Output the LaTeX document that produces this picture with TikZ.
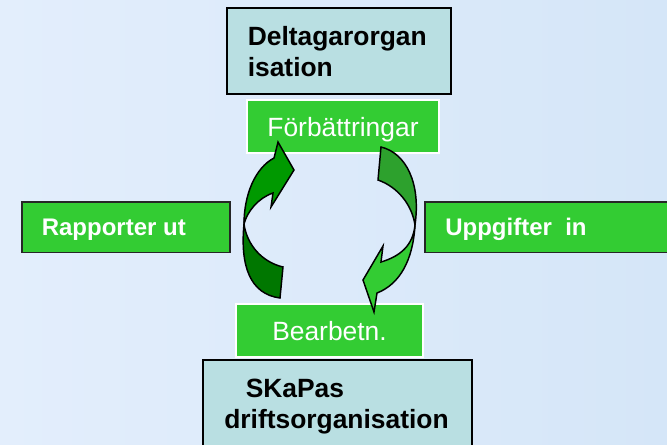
\documentclass[tikz,border=0pt]{standalone}
\usepackage{fontspec}
\setmainfont{Liberation Sans}
\definecolor{bgL}{HTML}{E3EEFC}
\definecolor{bgR}{HTML}{D5E6F8}
\definecolor{tealbg}{HTML}{B9DFE2}
\definecolor{grn}{HTML}{33CC33}
\definecolor{dgA}{HTML}{009900}
\definecolor{dgB}{HTML}{007700}
\definecolor{mgA}{HTML}{2DA12D}
\begin{document}
\begin{tikzpicture}[x=0.75pt,y=-0.75pt,
  tealbox/.style={draw=black, line width=1.1pt, fill=tealbg, inner sep=0pt},
  greenbox/.style={draw=white, line width=1pt, fill=grn, inner sep=0pt},
  sidebox/.style={draw=black!85, line width=1.1pt, fill=grn, inner sep=0pt},
  btxt/.style={font=\fontsize{19.8pt}{23pt}\selectfont\bfseries, inner sep=0pt, text=black},
  wtxt/.style={font=\fontsize{19.8pt}{23pt}\selectfont, inner sep=0pt, text=white},
  wbtxt/.style={font=\fontsize{18pt}{21pt}\selectfont\bfseries, inner sep=0pt, text=white},
  arrowline/.style={draw=black, line width=1.1pt}]
\clip (0,0) rectangle (667,444);
\shade[left color=bgL, right color=bgR] (0,0) rectangle (667,444);
% top organisation box
\node[tealbox, minimum width=168pt, minimum height=64.5pt] (org) at (339,51) {};
\node[btxt, anchor=base west] (orgA) at (247.5,45) {Deltagarorgan};
\node[btxt, anchor=base west] (orgB) at (247.5,76) {isation};
% improvement box
\node[greenbox, minimum width=144pt, minimum height=39.75pt] (forb) at (343,126.5) {};
\node[wtxt, anchor=base] (forbT) at (343,136.5) {Förbättringar};
% processing box
\node[greenbox, minimum width=140.25pt, minimum height=39.75pt] (bearb) at (329.5,330.5) {};
\node[wtxt, anchor=base] (bearbT) at (329.5,340.7) {Bearbetn.};
% SKaPas box
\node[tealbox, minimum width=201.75pt, minimum height=67.5pt] (skapas) at (337.5,405) {};
\node[btxt, anchor=base west] (skA) at (245.5,397.3) {SKaPas};
\node[btxt, anchor=base west] (skB) at (224,428.3) {driftsorganisation};
% side boxes
\node[sidebox, minimum width=156pt, minimum height=37.9pt] (rapp) at (126,227.25) {};
\node[wbtxt, anchor=base west] (rappT) at (41.5,235.7) {Rapporter ut};
\node[sidebox, minimum width=185.25pt, minimum height=37.9pt] (uppg) at (548.5,227.25) {};
\node[wbtxt, anchor=base west] (uppgT) at (445,235.7) {Uppgifter\ \ in};
% left curved arrow
\filldraw[arrowline, fill=dgB] (244,224) .. controls (240,266) and (250,294) .. (280,298) -- (283,267) .. controls (262,262) and (247,245) .. (244,224) -- cycle;
\filldraw[arrowline, fill=dgA] (244,224) .. controls (244,195) and (255,168) .. (274,158) -- (278,142) -- (294,170) -- (271,207) -- (273,193) .. controls (258,198) and (247,212) .. (244,224) -- cycle;
% right curved arrow
\filldraw[arrowline, fill=mgA] (381,147) .. controls (406,153) and (421,183) .. (415,225) .. controls (412,205) and (398,187) .. (378,180) -- cycle;
\filldraw[arrowline, fill=grn] (415,225) .. controls (413,260) and (400,284) .. (377,293) -- (374,312) -- (363,280) -- (383,246) -- (381,262) .. controls (401,256) and (413,245) .. (415,225) -- cycle;
\end{tikzpicture}
\end{document}
